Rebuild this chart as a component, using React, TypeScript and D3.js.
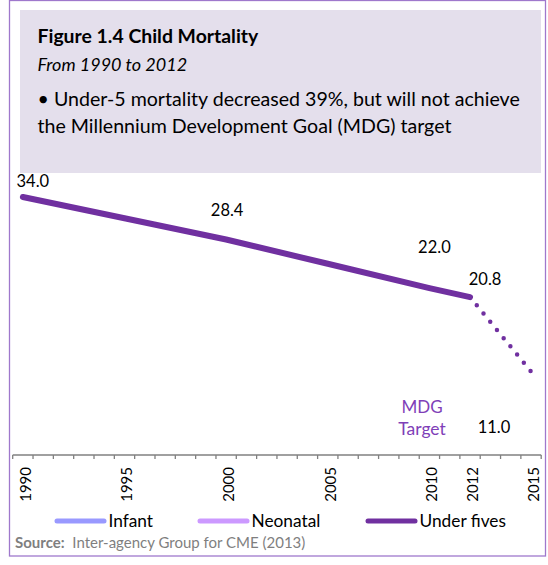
import React from 'react';
import * as d3 from 'd3';

// Categories on the horizontal axis (one band per year)
const categories = [
  1990, 1991, 1992, 1993, 1994, 1995, 1996, 1997, 1998, 1999, 2000, 2001, 2002,
  2003, 2004, 2005, 2006, 2007, 2008, 2009, 2010, 2011, 2012, 2013, 2014, 2015,
];
const tickLabels = [1990, 1995, 2000, 2005, 2010, 2012, 2015];

// Under-five mortality (deaths per 1,000 live births)
const underFiveYears = [1990, 1995, 2000, 2005, 2010, 2012];
const underFiveRates = [34.0, 31.2, 28.4, 25.2, 22.0, 20.8];

// Path from the latest estimate to the MDG target
const targetYears = [2012, 2015];
const targetRates = [20.8, 11.0];

const labelledYears = [1990, 2000, 2010, 2012];
const legendNames = ['Infant', 'Neonatal', 'Under fives'];

const W = 548;
const H = 565;
const FONT = 'Lato, "Open Sans", sans-serif';
const PURPLE = '#7030a0';
const legendColors = ['#9999ff', '#cc99ff', PURPLE];
// where each legend entry's swatch starts
const legendX = [57, 200, 368];
// label nudges [dx, dy] relative to the point they describe
const labelNudge: Record<number, [number, number]> = {
  1990: [10, -10.5],
  2000: [1, -23],
  2010: [5, -35],
  2012: [15, -12.5],
};
const targetNudge: [number, number] = [-37, 61.5];

export default function App() {
  const x = d3
    .scaleBand<string>()
    .domain(categories.map(String))
    .range([12.7, 541.2])
    .paddingInner(0)
    .paddingOuter(0);
  const bw = x.bandwidth();
  const cx = (yr: number) => (x(String(yr)) as number) + bw / 2;
  const y = d3.scaleLinear().domain([0, 34]).range([455, 197]);

  const line = d3
    .line<[number, number]>()
    .x((d) => cx(d[0]))
    .y((d) => y(d[1]));

  const mainPts: [number, number][] = underFiveYears.map((yr, i) => [yr, underFiveRates[i]]);
  const targetPts: [number, number][] = targetYears.map((yr, i) => [yr, targetRates[i]]);

  const axisY = y(0);
  const boundaries = categories.map((c) => x(String(c)) as number).concat([x.range()[1]]);

  const targetYear = targetYears[targetYears.length - 1];
  const targetRate = targetRates[targetRates.length - 1];

  return (
    <svg
      width={W}
      height={H}
      style={{ position: 'absolute', left: 0, top: 0, background: '#fff' }}
      fontFamily={FONT}
    >
      {/* outer frame */}
      <rect x={9.5} y={0.5} width={536} height={555.5} fill="none" stroke="#9f78cc" strokeWidth={1.3} />

      {/* header panel */}
      <rect x={20} y={10} width={521} height={163} fill="#e4dfec" />
      <text x={37.5} y={42.5} fontSize={19.4} fontWeight={700} fill="#000">
        Figure 1.4 Child Mortality
      </text>
      <text x={37.5} y={71} fontSize={18} fontStyle="italic" fill="#000">
        From 1990 to 2012
      </text>
      <text x={37.5} y={106} fontSize={19.6} fill="#000">
        • Under-5 mortality decreased 39%, but will not achieve
      </text>
      <text x={37.5} y={132.5} fontSize={19.6} fill="#000">
        the Millennium Development Goal (MDG) target
      </text>

      {/* under-five series */}
      <path
        d={line(mainPts) || ''}
        fill="none"
        stroke={PURPLE}
        strokeWidth={6}
        strokeLinecap="round"
        strokeLinejoin="round"
      />
      <path
        d={line(targetPts) || ''}
        fill="none"
        stroke={PURPLE}
        strokeWidth={4.5}
        strokeLinecap="round"
        strokeDasharray="0 10.6"
      />

      {/* value labels */}
      {labelledYears.map((yr) => {
        const v = underFiveRates[underFiveYears.indexOf(yr)];
        const [dx, dy] = labelNudge[yr];
        return (
          <text key={yr} x={cx(yr) + dx} y={y(v) + dy} fontSize={16.5} textAnchor="middle" fill="#000">
            {v.toFixed(1)}
          </text>
        );
      })}
      <text
        x={cx(targetYear) + targetNudge[0]}
        y={y(targetRate) + targetNudge[1]}
        fontSize={16.5}
        textAnchor="middle"
        fill="#000"
      >
        {targetRate.toFixed(1)}
      </text>
      <text x={422} y={413} fontSize={17} textAnchor="middle" fill="#7f3fb8">
        MDG
      </text>
      <text x={422} y={435} fontSize={17.5} textAnchor="middle" fill="#7f3fb8">
        Target
      </text>

      {/* horizontal axis */}
      <line x1={x.range()[0]} x2={x.range()[1]} y1={axisY} y2={axisY} stroke="#808080" strokeWidth={1.5} />
      {boundaries.map((bx, i) => (
        <line key={i} x1={bx} x2={bx} y1={axisY} y2={axisY + 4} stroke="#808080" strokeWidth={1.3} />
      ))}
      {tickLabels.map((yr) => (
        <text
          key={yr}
          transform={`translate(${cx(yr) + 8},${axisY + 12}) rotate(-90)`}
          fontSize={15}
          textAnchor="end"
          fill="#000"
        >
          {yr}
        </text>
      ))}

      {/* legend */}
      {legendNames.map((name, i) => (
        <g key={name}>
          <line
            x1={legendX[i]}
            x2={legendX[i] + 47}
            y1={521}
            y2={521}
            stroke={legendColors[i]}
            strokeWidth={5}
            strokeLinecap="round"
          />
          <text x={legendX[i] + 51.5} y={526.7} fontSize={17.3} fill="#000">
            {name}
          </text>
        </g>
      ))}

      {/* source note */}
      <text x={15} y={548.3} fontSize={15} fill="#7f7f7f">
        <tspan fontWeight={700}>Source:</tspan>
        <tspan>{'\u00a0\u00a0Inter-agency Group for CME (2013)'}</tspan>
      </text>
    </svg>
  );
}
